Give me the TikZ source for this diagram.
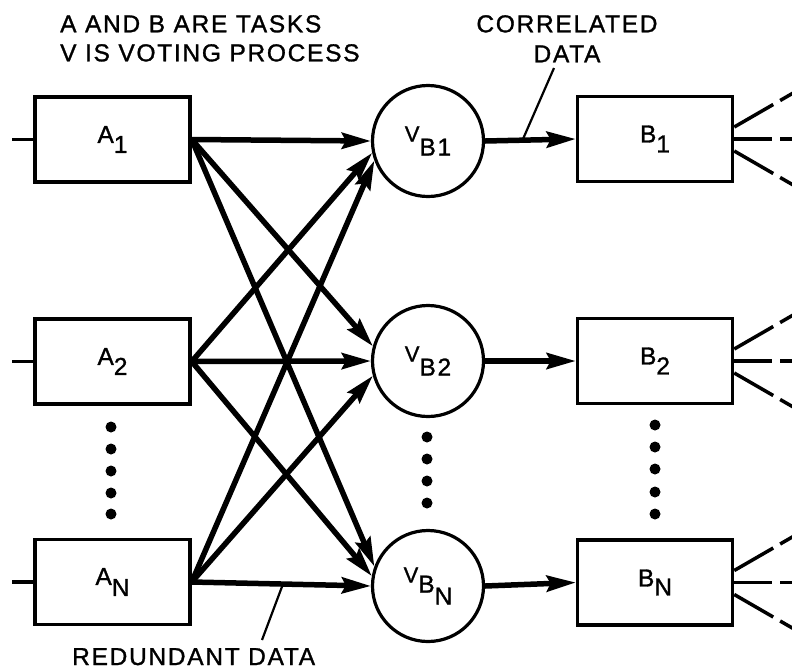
\documentclass[tikz,border=0pt]{standalone}
\usepackage{fontspec}
\setmainfont{Liberation Sans}[LetterSpace=7,FakeBold=1.2]
\usetikzlibrary{arrows.meta,calc}
\newcommand{\lowerby}[2]{\raisebox{-#1pt}{#2}}
\begin{document}
\begin{tikzpicture}[x=1pt,y=-1pt,
  txt/.style={inner sep=0pt,font=\fontsize{24.5}{29}\selectfont},
  taskbox/.style={draw,line width=3.5pt,minimum width=155pt,minimum height=85pt,inner sep=0pt,font=\fontsize{24.5}{26}\selectfont},
  voter/.style={draw,circle,line width=3.2pt,minimum size=111pt,inner sep=0pt,font=\fontsize{24.5}{26}\selectfont},
  flow/.style={line width=5.5pt,-{Stealth[length=29pt,width=16pt,inset=4pt]}},
  wire/.style={line width=3.5pt},
  leader/.style={line width=2.2pt},
  fanside/.style={line width=3.5pt,dash pattern=on 45pt off 8pt on 40pt},
  fanmid/.style={line width=3.5pt,dash pattern=on 38pt off 8pt on 40pt},
  dotmark/.style={fill=black}
]
\useasboundingbox (0,0) rectangle (792,670);

% title
\node[txt,anchor=north west,align=left] (title) at (60,15) {A AND B ARE TASKS\\V IS VOTING PROCESS};

% task boxes A
\node[taskbox] (A1) at (112.5,139.5) {A\lowerby{10}{1}};
\node[taskbox] (A2) at (112.5,361.5) {A\lowerby{10}{2}};
\node[taskbox] (AN) at (112.5,582) {A\lowerby{11}{N}};

% voters
\node[voter] (V1) at (428,141) {{\fontsize{22}{24}\selectfont V}\lowerby{14}{B1}};
\node[voter] (V2) at (428,361) {{\fontsize{22}{24}\selectfont V}\lowerby{14}{B2}};
\node[voter] (VN) at (428,586) {{\fontsize{22}{24}\selectfont V}\lowerby{10}{B\lowerby{12}{N}}};

% task boxes B
\node[taskbox] (B1) at (655,139) {B\lowerby{10}{1}};
\node[taskbox] (B2) at (655,361) {B\lowerby{10}{2}};
\node[taskbox] (BN) at (655,582.5) {B\lowerby{9}{N}};

% inputs
\coordinate (in1) at (12,139.5);
\coordinate (in2) at (12,361.5);
\coordinate (inN) at (12,582);
\draw[wire] (in1) -- (A1.west);
\draw[wire] (in2) -- (A2.west);
\draw[wire] (inN) -- (AN.west);

% redundant data flows
\draw[flow] (A1.east) -- (V1.west);
\draw[flow] (A1.east) -- (V2.165);
\draw[flow] (A1.east) -- (VN.160);
\draw[flow] (A2.east) -- (V1.192);
\draw[flow] (A2.east) -- (V2.west);
\draw[flow] (A2.east) -- (VN.170);
\draw[flow] (AN.east) -- (V1.200);
\draw[flow] (AN.east) -- (V2.195);
\draw[flow] (AN.east) -- (VN.west);

% correlated data flows
\draw[flow] (V1.east) -- (B1.west);
\draw[flow] (V2.east) -- (B2.west);
\draw[flow] (VN.east) -- (BN.west);

% fan-outs
\foreach \b in {B1,B2,BN}{
  \draw[fanside] ($(\b.east)+(0,-12)$) -- ++(-30:68);
  \draw[fanmid] (\b.east) -- ++(59,0);
  \draw[fanside] ($(\b.east)+(0,12)$) -- ++(30:68);
}

% dots
\foreach \y in {427,449,471,493,514}{\fill[dotmark] (111,\y) circle (5.5);}
\foreach \y in {437,459,481,503}{\fill[dotmark] (427,\y) circle (5.5);}
\foreach \y in {425,447,469,492,514}{\fill[dotmark] (655,\y) circle (5.5);}

% callouts
\node[txt,anchor=north,align=center] (cor) at (567,15) {CORRELATED\\[1pt]DATA};
\coordinate (corTail) at (554,68);
\coordinate (corTip) at (523,139);
\draw[leader] (corTail) -- (corTip);

\node[txt,anchor=base west] (red) at (72,665) {REDUNDANT DATA};
\coordinate (redTail) at (262,640);
\coordinate (redTip) at (283,584);
\draw[leader] (redTail) -- (redTip);
\end{tikzpicture}
\end{document}
